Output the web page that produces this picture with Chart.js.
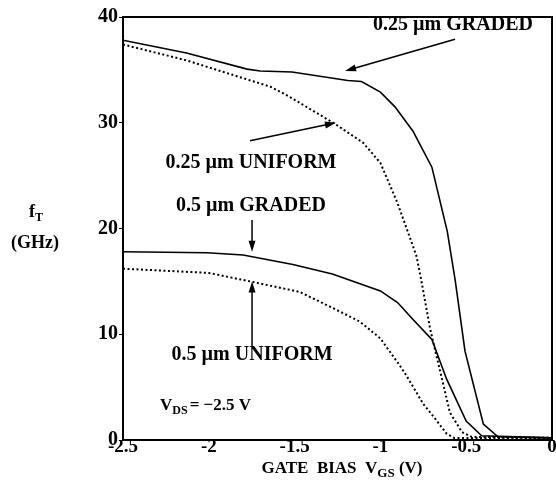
<!DOCTYPE html>
<html><head><meta charset="utf-8">
<script src="https://cdn.jsdelivr.net/npm/chart.js@4.4.1/dist/chart.umd.min.js"></script>
<style>html,body{margin:0;padding:0;background:#fff}#wrap{width:556px;height:485px;position:relative}</style>
</head><body><div id="wrap"><canvas id="c" width="556" height="485"></canvas></div>
<script>
// Data (x = V_GS in volts, y = fT in GHz)
const graded025X = [-2.5,-2.13,-1.777,-1.70,-1.515,-1.19,-1.11,-1.0,-0.915,-0.81,-0.70,-0.61,-0.565,-0.507,-0.40,-0.315,0];
const graded025Y = [37.8,36.6,35.07,34.9,34.8,34.0,33.9,32.9,31.5,29.2,25.8,19.7,15.2,8.4,1.5,0.3,0.2];
const uniform025X = [-2.5,-2.13,-1.64,-1.545,-1.265,-1.10,-1.0,-0.90,-0.79,-0.763,-0.71,-0.665,-0.595,-0.525,-0.47,0];
const uniform025Y = [37.4,35.9,33.4,32.6,29.9,28.1,26.2,22.4,17.4,15.2,10.5,7.4,2.6,0.75,0.3,0.2];
const graded05X = [-2.5,-2.01,-1.80,-1.51,-1.28,-1.0,-0.90,-0.81,-0.70,-0.614,-0.50,-0.41,0];
const graded05Y = [17.8,17.7,17.5,16.6,15.7,14.1,13.0,11.4,9.5,5.75,1.8,0.4,0.2];
const uniform05X = [-2.5,-2.0,-1.76,-1.47,-1.28,-1.12,-1.0,-0.885,-0.845,-0.79,-0.75,-0.69,-0.614,-0.57,0];
const uniform05Y = [16.2,15.8,15.0,14.0,12.5,11.2,9.6,7.0,6.0,4.5,3.4,2.2,0.6,0.2,0.2];
const xTicks = [-2.5,-2,-1.5,-1,-0.5,0];
const yTicks = [0,10,20,30,40];
// Annotations (data coordinates)
const labels = [
  {text:'0.25 \u00b5m GRADED', x:-0.577, y:39.3},
  {text:'0.25 \u00b5m UNIFORM', x:-1.754, y:26.2},
  {text:'0.5 \u00b5m GRADED', x:-1.754, y:22.1},
  {text:'0.5 \u00b5m UNIFORM', x:-1.748, y:8.1}
];
const arrows = [
  {x1:-0.565, y1:37.9, x2:-1.206, y2:34.9},
  {x1:-1.76, y1:28.3, x2:-1.259, y2:30.0},
  {x1:-1.748, y1:20.8, x2:-1.748, y2:17.8},
  {x1:-1.748, y1:8.9, x2:-1.748, y2:15.0}
];
const vdsLabel = {x:-2.284, y:3.4};

const zip = (xs, ys) => xs.map((x,i)=>({x, y:ys[i]}));
const SERIF = '"Liberation Serif", "Times New Roman", serif';

const annot = {
  id:'annot',
  afterDraw(chart){
    const ctx = chart.ctx, xs = chart.scales.x, ys = chart.scales.y, a = chart.chartArea;
    ctx.save();
    ctx.strokeStyle='#000'; ctx.lineWidth=2;
    ctx.strokeRect(a.left, a.top, a.right-a.left, a.bottom-a.top);
    ctx.fillStyle='#000';
    ctx.font = 'bold 20px '+SERIF;
    ctx.textAlign='center'; ctx.textBaseline='middle';
    labels.forEach(l=>ctx.fillText(l.text, xs.getPixelForValue(l.x), ys.getPixelForValue(l.y)));
    ctx.lineWidth=1.5;
    arrows.forEach(r=>{
      const x1=xs.getPixelForValue(r.x1), y1=ys.getPixelForValue(r.y1);
      const x2=xs.getPixelForValue(r.x2), y2=ys.getPixelForValue(r.y2);
      const ang=Math.atan2(y2-y1,x2-x1), L=11, w=3.5;
      ctx.beginPath(); ctx.moveTo(x1,y1); ctx.lineTo(x2-Math.cos(ang)*L*0.8,y2-Math.sin(ang)*L*0.8); ctx.stroke();
      ctx.beginPath();
      ctx.moveTo(x2,y2);
      ctx.lineTo(x2-Math.cos(ang)*L-Math.sin(ang)*w, y2-Math.sin(ang)*L+Math.cos(ang)*w);
      ctx.lineTo(x2-Math.cos(ang)*L+Math.sin(ang)*w, y2-Math.sin(ang)*L-Math.cos(ang)*w);
      ctx.closePath(); ctx.fill();
    });
    ctx.textAlign='left'; ctx.textBaseline='alphabetic';
    let px = xs.getPixelForValue(vdsLabel.x), py = ys.getPixelForValue(vdsLabel.y)+6;
    ctx.font='bold 17px '+SERIF; ctx.fillText('V', px, py); px += ctx.measureText('V').width;
    ctx.font='bold 12px '+SERIF; ctx.fillText('DS', px, py+4); px += ctx.measureText('DS').width+2;
    ctx.font='bold 17px '+SERIF; ctx.fillText('= \u22122.5 V', px, py);
    const t1='GATE  BIAS  V', t2='GS', t3=' (V)';
    ctx.font='bold 17px '+SERIF; const w1=ctx.measureText(t1).width, w3=ctx.measureText(t3).width;
    ctx.font='bold 13px '+SERIF; const w2=ctx.measureText(t2).width;
    let tx = 342 - (w1+w2+w3)/2, ty = 473;
    ctx.font='bold 17px '+SERIF; ctx.fillText(t1, tx, ty); tx+=w1;
    ctx.font='bold 13px '+SERIF; ctx.fillText(t2, tx, ty+4); tx+=w2;
    ctx.font='bold 17px '+SERIF; ctx.fillText(t3, tx, ty);
    ctx.font='bold 18px '+SERIF; ctx.fillText('f', 29, 217);
    ctx.font='bold 12px '+SERIF; ctx.fillText('T', 35, 221);
    ctx.textAlign='center';
    ctx.font='bold 18px '+SERIF; ctx.fillText('(GHz)', 35, 248);
    ctx.restore();
  }
};

new Chart(document.getElementById('c'), {
  type:'line',
  data:{datasets:[
    {data:zip(graded025X,graded025Y), borderColor:'#000', borderWidth:1.6, pointRadius:0, tension:0},
    {data:zip(uniform025X,uniform025Y), borderColor:'#000', borderWidth:2, borderDash:[2,2.5], pointRadius:0, tension:0},
    {data:zip(graded05X,graded05Y), borderColor:'#000', borderWidth:1.6, pointRadius:0, tension:0},
    {data:zip(uniform05X,uniform05Y), borderColor:'#000', borderWidth:2, borderDash:[2,2.5], pointRadius:0, tension:0}
  ]},
  options:{
    responsive:false, animation:false, events:[],
    layout:{padding:{top:17,right:4,left:0,bottom:0}},
    plugins:{legend:{display:false}, tooltip:{enabled:false}},
    scales:{
      x:{type:'linear', min:-2.5, max:0,
        afterBuildTicks(s){ s.ticks = xTicks.map(v=>({value:v})); },
        afterFit(s){ s.height = 45; },
        grid:{drawOnChartArea:false, drawTicks:false, color:'#000'},
        border:{color:'#000', width:2},
        ticks:{padding:-4, color:'#000', font:{family:SERIF, weight:'bold', size:19}, maxRotation:0,
          callback:v=>String(v)}
      },
      y:{type:'linear', min:0, max:40,
        afterBuildTicks(s){ s.ticks = yTicks.map(v=>({value:v})); },
        afterFit(s){ s.width = 123; },
        grid:{drawOnChartArea:false, tickLength:4, color:'#000'},
        border:{color:'#000', width:2},
        ticks:{padding:1, color:'#000', font:{family:SERIF, weight:'bold', size:20}}
      }
    }
  },
  plugins:[annot]
});
</script></body></html>
